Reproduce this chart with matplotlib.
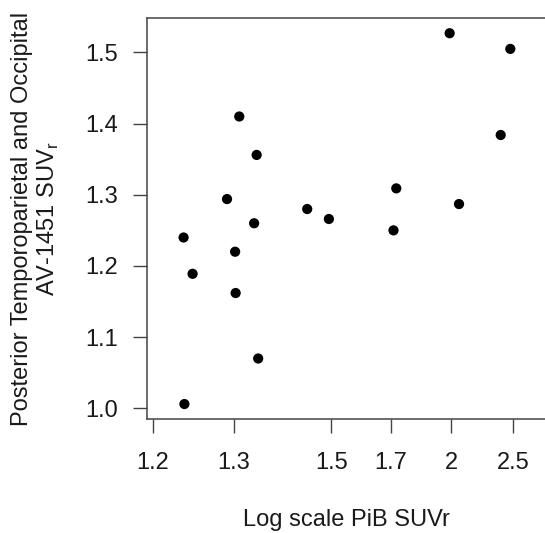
import numpy as np
import matplotlib
matplotlib.use("Agg")
import matplotlib.pyplot as plt

plt.rcParams['font.family'] = ['Liberation Sans', 'DejaVu Sans']

# PiB SUVr (x) and posterior temporoparietal / occipital AV-1451 SUVr (y)
pib_suvr = [1.237, 1.238, 1.248, 1.291, 1.302, 1.303, 1.310, 1.339, 1.344,
            1.347, 1.448, 1.495, 1.712, 1.725, 1.993, 2.059, 2.392, 2.476]
av1451_suvr = [1.240, 1.006, 1.189, 1.294, 1.220, 1.162, 1.410, 1.260, 1.356,
               1.070, 1.280, 1.266, 1.250, 1.309, 1.527, 1.287, 1.384, 1.505]

x_ticks = [1.2, 1.3, 1.5, 1.7, 2.0, 2.5]
x_tick_labels = ["1.2", "1.3", "1.5", "1.7", "2", "2.5"]
y_ticks = [1.0, 1.1, 1.2, 1.3, 1.4, 1.5]

# the printed axis is not a plain log axis: tick spacing as in the figure
knot_pos = np.array([0.0, 81.3, 178.3, 238.0, 298.0, 360.0])
knot_log = np.log(np.array(x_ticks))
slope_lo = (knot_pos[1] - knot_pos[0]) / (knot_log[1] - knot_log[0])
slope_hi = (knot_pos[-1] - knot_pos[-2]) / (knot_log[-1] - knot_log[-2])


def forward(x):
    lx = np.log(np.clip(np.asarray(x, dtype=float), 1e-6, None))
    out = np.interp(lx, knot_log, knot_pos)
    out = np.where(lx < knot_log[0], knot_pos[0] + (lx - knot_log[0]) * slope_lo, out)
    out = np.where(lx > knot_log[-1], knot_pos[-1] + (lx - knot_log[-1]) * slope_hi, out)
    return out


def inverse(p):
    p = np.asarray(p, dtype=float)
    lx = np.interp(p, knot_pos, knot_log)
    lx = np.where(p < knot_pos[0], knot_log[0] + (p - knot_pos[0]) / slope_lo, lx)
    lx = np.where(p > knot_pos[-1], knot_log[-1] + (p - knot_pos[-1]) / slope_hi, lx)
    return np.exp(lx)


fig = plt.figure(figsize=(5.45, 5.33), dpi=100)
ax = fig.add_axes([0.2692, 0.2139, 0.74, 0.7518])

ax.set_xscale('function', functions=(forward, inverse))
ax.scatter(pib_suvr, av1451_suvr, s=54, color='black', edgecolors='none', zorder=3)

ax.set_xlim(float(inverse(-6.0)), float(inverse(397.0)))
ax.set_ylim(0.985, 1.548)

ax.set_xticks(x_ticks)
ax.set_xticklabels(x_tick_labels)
ax.xaxis.set_minor_locator(matplotlib.ticker.NullLocator())
ax.set_yticks(y_ticks)
ax.set_yticklabels(["%.1f" % v for v in y_ticks])

for side in ['top', 'bottom', 'left', 'right']:
    ax.spines[side].set_color('#444444')
    ax.spines[side].set_linewidth(1.1)

txt = '#1a1a1a'
ax.tick_params(axis='both', direction='out', length=10, width=1.0,
               color='#444444', labelsize=17, labelcolor=txt)
ax.tick_params(axis='x', pad=14)
ax.tick_params(axis='y', pad=10.5)

ax.set_xlabel("Log scale PiB SUVr", fontsize=17, color=txt)
ax.set_ylabel("Posterior Temporoparietal and Occipital\nAV-1451 SUV$_\\mathregular{r}$",
              fontsize=17, color=txt, linespacing=1.15)
ax.xaxis.set_label_coords(0.494, -0.224)
ax.yaxis.set_label_coords(-0.213, 0.5)

fig.savefig("out.png", dpi=100)
